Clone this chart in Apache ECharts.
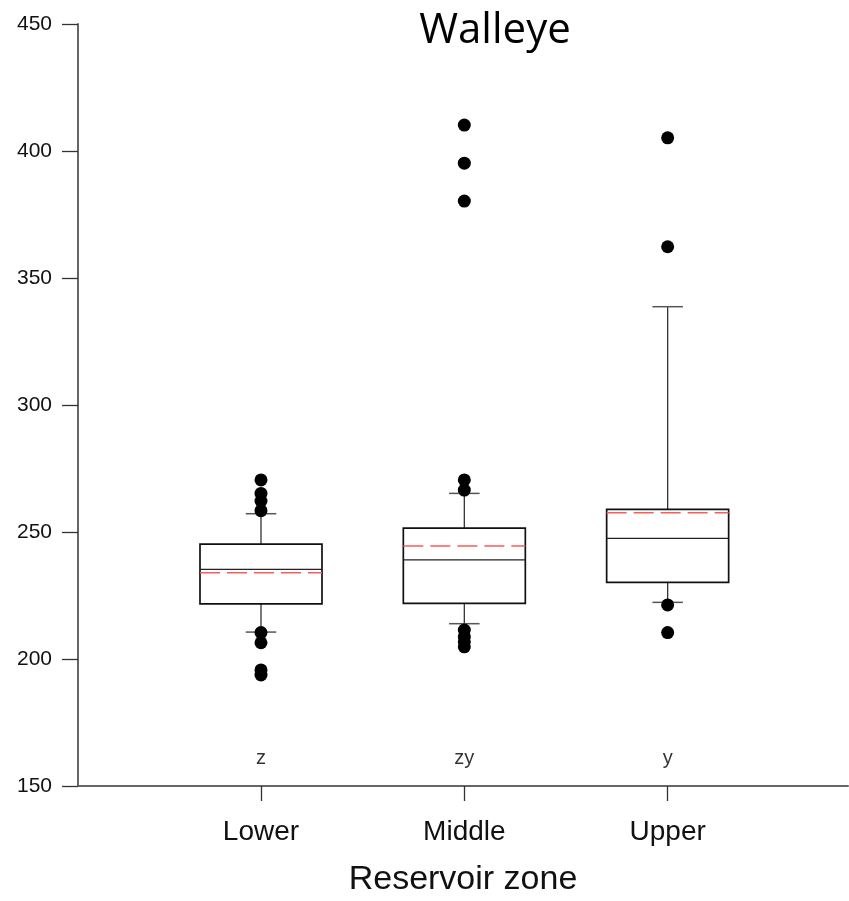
<!DOCTYPE html>
<html><head><meta charset="utf-8">
<script src="https://cdn.jsdelivr.net/npm/echarts@6/dist/echarts.min.js"></script>
<style>html,body{margin:0;padding:0;background:#fff}#c{width:849px;height:901px}</style>
</head><body><div id="c"></div>
<script>
const categories = ['Lower', 'Middle', 'Upper'];
const positions = [1, 2, 3];
const whiskerLow = [210.6, 213.9, 222.3];
const q1 = [221.7, 221.9, 230.2];
const medians = [235.3, 239.0, 247.5];
const q3 = [245.2, 251.5, 258.9];
const whiskerHigh = [257.2, 265.2, 338.7];
const means = [234.0, 244.5, 257.6];
const outliersLower = [270.5, 265.2, 262.2, 258.4, 210.4, 206.4, 195.7, 193.7];
const outliersMiddle = [410.2, 395.2, 380.3, 270.5, 266.5, 211.4, 208.8, 206.8, 204.8];
const outliersUpper = [405.2, 362.3, 221.3, 210.4];
const letters = ['z', 'zy', 'y'];
const letterY = 161;
const yMin = 150, yMax = 450, yStep = 50;

const FONT = 'Liberation Sans';
const boxData = positions.map((p, i) => [p, whiskerLow[i], q1[i], medians[i], q3[i], whiskerHigh[i], means[i]]);
const outlierData = []
  .concat(outliersLower.map(v => [positions[0], v]))
  .concat(outliersMiddle.map(v => [positions[1], v]))
  .concat(outliersUpper.map(v => [positions[2], v]));
const letterData = positions.map((p, i) => [p, letterY, letters[i]]);

const chart = echarts.init(document.getElementById('c'), null, {renderer: 'canvas'});
chart.setOption({
  animation: false,
  backgroundColor: '#fff',
  title: {
    text: 'Walleye', left: 490, top: 5, textAlign: 'center',
    textStyle: {fontFamily: 'Open Sans', fontSize: 42, fontWeight: 'normal', color: '#000'}
  },
  grid: {left: 78, right: 1, top: 24, bottom: 115, outerBoundsMode: 'none'},
  xAxis: {
    type: 'value', min: 0.1, max: 3.887,
    axisLine: {onZero: false, lineStyle: {color: '#666', width: 2}},
    axisTick: {show: true, customValues: positions, length: 15, lineStyle: {color: '#333', width: 1.3}},
    axisLabel: {customValues: positions, formatter: v => categories[positions.indexOf(v)], fontSize: 28, margin: 32, color: '#111', fontFamily: FONT},
    splitLine: {show: false},
    name: 'Reservoir zone', nameLocation: 'middle', nameGap: 77,
    nameTextStyle: {fontSize: 34, color: '#111', fontFamily: FONT}
  },
  yAxis: {
    type: 'value', min: yMin, max: yMax, interval: yStep,
    axisLine: {show: true, onZero: false, lineStyle: {color: '#666', width: 2}},
    axisTick: {show: true, length: 16, lineStyle: {color: '#333', width: 1.3}},
    axisLabel: {fontSize: 21, margin: 26, color: '#111', fontFamily: FONT},
    splitLine: {show: false}
  },
  series: [
    {
      type: 'custom',
      data: boxData,
      encode: {x: 0, y: [1, 2, 3, 4, 5, 6]},
      renderItem: function (params, api) {
        const x = api.value(0);
        const half = api.size([0.6, 0])[0] / 2;
        const cap = api.size([0.15, 0])[0] / 2;
        const c = api.coord([x, 0])[0];
        const yy = k => api.coord([x, api.value(k)])[1];
        const wl = yy(1), b1 = yy(2), md = yy(3), b3 = yy(4), wh = yy(5), mn = yy(6);
        const line = (x1, y1, x2, y2, st) => ({type: 'line', shape: {x1, y1, x2, y2}, style: st});
        return {
          type: 'group',
          children: [
            line(c, wh, c, b3, {stroke: '#333', lineWidth: 1.3}),
            line(c, b1, c, wl, {stroke: '#333', lineWidth: 1.3}),
            line(c - cap, wh, c + cap, wh, {stroke: '#555', lineWidth: 1.5}),
            line(c - cap, wl, c + cap, wl, {stroke: '#555', lineWidth: 1.5}),
            {type: 'rect', shape: {x: c - half, y: b3, width: half * 2, height: b1 - b3},
             style: {fill: '#fff', stroke: '#111', lineWidth: 1.7}},
            line(c - half, md, c + half, md, {stroke: '#222', lineWidth: 1.3}),
            line(c - half, mn, c + half, mn, {stroke: '#ff5a5a', lineWidth: 1.5, lineDash: [20, 7]})
          ]
        };
      },
      z: 2
    },
    {
      type: 'scatter',
      data: outlierData,
      symbol: 'circle', symbolSize: 13,
      itemStyle: {color: '#000', opacity: 1},
      z: 3
    },
    {
      type: 'scatter',
      data: letterData,
      symbolSize: 0,
      label: {show: true, position: 'inside', formatter: p => p.data[2], fontSize: 20, color: '#000', fontFamily: FONT},
      z: 3
    }
  ]
});
</script></body></html>
